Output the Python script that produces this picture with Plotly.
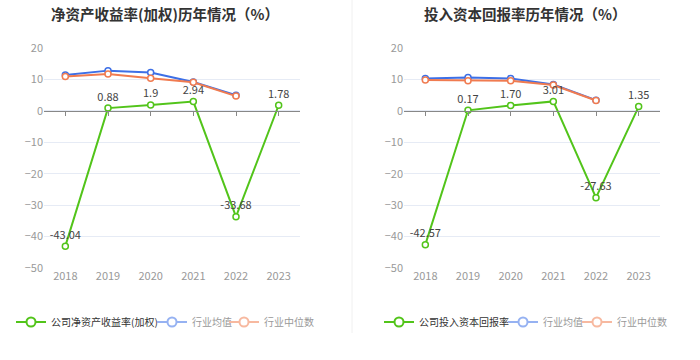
import plotly.graph_objects as go

years = ["2018", "2019", "2020", "2021", "2022", "2023"]

roe_company = [-43.04, 0.88, 1.9, 2.94, -33.68, 1.78]
roe_company_text = ["-43.04", "0.88", "1.9", "2.94", "-33.68", "1.78"]
roe_avg = [11.4, 12.8, 12.2, 9.2, 5.0, None]
roe_median = [10.9, 11.7, 10.4, 9.1, 4.7, None]

roic_company = [-42.57, 0.17, 1.70, 3.01, -27.63, 1.35]
roic_company_text = ["-42.57", "0.17", "1.70", "3.01", "-27.63", "1.35"]
roic_avg = [10.3, 10.6, 10.3, 8.4, 3.4, None]
roic_median = [9.8, 9.6, 9.6, 8.2, 3.3, None]

titles = ["净资产收益率(加权)历年情况（%）", "投入资本回报率历年情况（%）"]
legend_names = [["公司净资产收益率(加权)", "行业均值", "行业中位数"],
                ["公司投入资本回报率", "行业均值", "行业中位数"]]
yticks = [20, 10, 0, -10, -20, -30, -40, -50]

GREEN = "#52c41a"
BLUE = "#3d6fe6"
ORANGE = "#f07b50"
GREEN_L = "#52c41a"
BLUE_L = "#96b2f2"
ORANGE_L = "#f7b9a0"
FONT = "Noto Sans CJK SC"

W, H = 700, 360
xdom = [[44 / W, 300 / W], [404 / W, 660 / W]]
ydom = [1 - 268 / H, 1 - 48 / H]
ymin, ymax = -50, 20

# legend box left edges (px) for each entry
legend_x = [[11, 152, 224], [379, 503, 577]]

fig = go.Figure()

datasets = [(roe_company, roe_company_text, roe_avg, roe_median),
            (roic_company, roic_company_text, roic_avg, roic_median)]

legend_layouts = {}
for i, (comp, comp_text, avg, med) in enumerate(datasets):
    xa = "x" if i == 0 else "x2"
    ya = "y" if i == 0 else "y2"
    marker_common = dict(symbol="circle", size=6, color="white")
    fig.add_trace(go.Scatter(x=years, y=avg, mode="lines+markers", xaxis=xa, yaxis=ya,
                             line=dict(color=BLUE, width=2),
                             marker=dict(**marker_common, line=dict(color=BLUE, width=1.5)),
                             showlegend=False, hoverinfo="skip"))
    fig.add_trace(go.Scatter(x=years, y=med, mode="lines+markers", xaxis=xa, yaxis=ya,
                             line=dict(color=ORANGE, width=2),
                             marker=dict(**marker_common, line=dict(color=ORANGE, width=1.5)),
                             showlegend=False, hoverinfo="skip"))
    fig.add_trace(go.Scatter(x=years, y=comp, mode="lines+markers+text", xaxis=xa, yaxis=ya,
                             text=comp_text, textposition="top center",
                             textfont=dict(color="#444444", size=11, family=FONT),
                             line=dict(color=GREEN, width=2),
                             marker=dict(**marker_common, line=dict(color=GREEN, width=1.5)),
                             showlegend=False, hoverinfo="skip", cliponaxis=False))
    for j, (name, col, tcol) in enumerate([(legend_names[i][0], GREEN_L, "#333333"),
                                           (legend_names[i][1], BLUE_L, "#999999"),
                                           (legend_names[i][2], ORANGE_L, "#999999")]):
        k = i * 3 + j + 1
        lg = "legend" if k == 1 else f"legend{k}"
        fig.add_trace(go.Scatter(x=[None], y=[None], mode="lines+markers", xaxis=xa, yaxis=ya,
                                 name=name,
                                 line=dict(color=col, width=2),
                                 marker=dict(symbol="circle", size=9, color="white",
                                             line=dict(color=col, width=2)),
                                 legend=lg, showlegend=True))
        legend_layouts[lg] = dict(orientation="h", x=legend_x[i][j] / W, y=1 - 322 / H,
                                  xanchor="left", yanchor="middle",
                                  font=dict(size=10, family=FONT, color=tcol), itemwidth=30,
                                  bgcolor="rgba(0,0,0,0)", itemclick=False, itemdoubleclick=False)

axis_x_common = dict(type="category", categoryarray=years, range=[-0.5, 5.5],
                     showgrid=False, zeroline=False, showline=False, ticks="",
                     tickfont=dict(color="#999999", size=11, family=FONT), fixedrange=True)
axis_y_common = dict(range=[ymin, ymax], tickvals=yticks, showgrid=True, gridcolor="#e6ebf5",
                     gridwidth=1, zeroline=False, showline=False, ticks="",
                     tickfont=dict(color="#999999", size=11, family=FONT), fixedrange=True)

zero_pos = ydom[0] + (0 - ymin) / (ymax - ymin) * (ydom[1] - ydom[0])

overlay_common = dict(type="category", categoryarray=years, range=[-0.5, 5.5],
                      anchor="free", position=zero_pos, showline=True, linecolor="#888888",
                      linewidth=1, ticks="outside", ticklen=4, tickcolor="#888888",
                      showticklabels=False, showgrid=False, zeroline=False, fixedrange=True)

fig.update_layout(
    width=W, height=H, margin=dict(l=0, r=0, t=0, b=0, autoexpand=False),
    paper_bgcolor="white", plot_bgcolor="white",
    font=dict(family=FONT),
    xaxis=dict(domain=xdom[0], anchor="y", **axis_x_common),
    yaxis=dict(domain=ydom, anchor="x", **axis_y_common),
    xaxis2=dict(domain=xdom[1], anchor="y2", **axis_x_common),
    yaxis2=dict(domain=ydom, anchor="x2", **axis_y_common),
    xaxis3=dict(overlaying="x", **overlay_common),
    xaxis4=dict(overlaying="x2", **overlay_common),
    annotations=[
        dict(text=f"<b>{titles[0]}</b>", x=165 / W, y=1 - 14 / H, xref="paper", yref="paper",
             xanchor="center", yanchor="middle",
             showarrow=False, font=dict(size=14.5, color="#333333", family=FONT)),
        dict(text=f"<b>{titles[1]}</b>", x=525 / W, y=1 - 14 / H, xref="paper", yref="paper",
             xanchor="center", yanchor="middle",
             showarrow=False, font=dict(size=14.5, color="#333333", family=FONT)),
    ],
    shapes=[dict(type="line", xref="paper", yref="paper", x0=352 / W, x1=352 / W,
                 y0=1 - 333 / H, y1=1, line=dict(color="#f0f0f0", width=1))],
    **legend_layouts,
)

# invisible traces so the zero-line overlay axes render
fig.add_trace(go.Scatter(x=years, y=[None] * 6, xaxis="x3", yaxis="y", showlegend=False, hoverinfo="skip"))
fig.add_trace(go.Scatter(x=years, y=[None] * 6, xaxis="x4", yaxis="y2", showlegend=False, hoverinfo="skip"))

fig.write_html("out.html", config={"displayModeBar": False},
               post_script="document.body.style.margin='0';")
